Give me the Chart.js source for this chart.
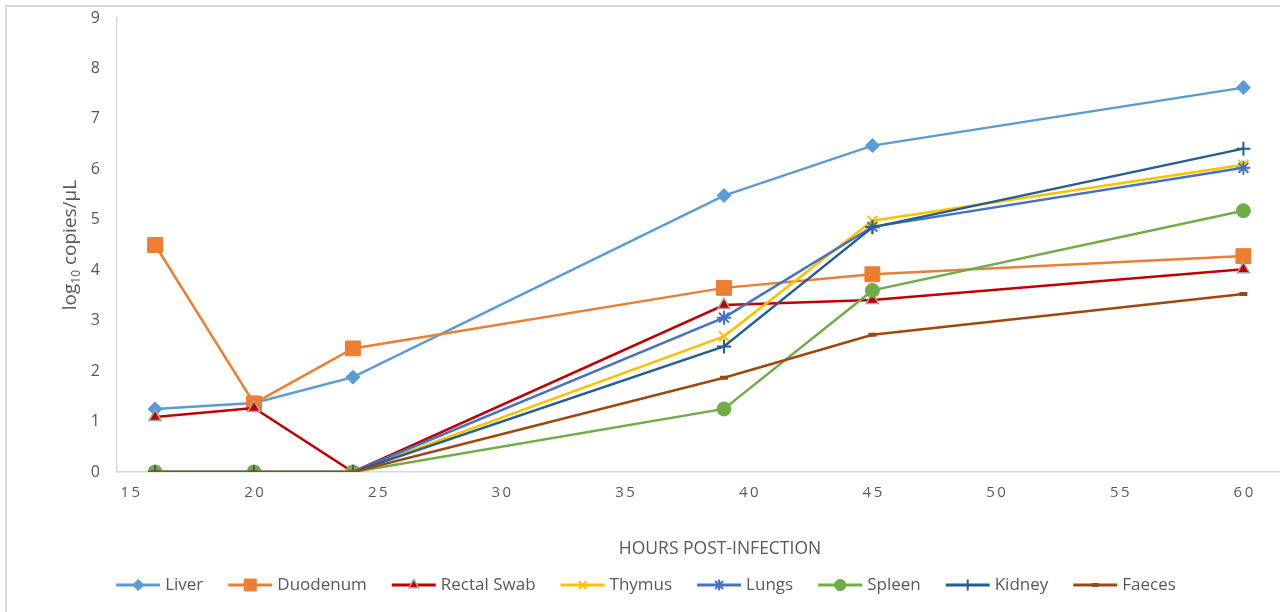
<!DOCTYPE html>
<html>
<head>
<meta charset="utf-8">
<script src="https://cdn.jsdelivr.net/npm/chart.js@4.4.1/dist/chart.umd.min.js"></script>
<style>
  html, body { margin: 0; padding: 0; background: #fff; overflow: hidden; }
  #wrap { position: absolute; left: 0; top: 0; width: 1292px; height: 612px; }
  #frame { position: absolute; left: 5px; top: 5px; width: 1400px; height: 700px;
           border-left: 2px solid #d9d9d9; border-top: 2px solid #d9d9d9; pointer-events: none; }
</style>
</head>
<body>
<div id="wrap"><canvas id="chart"></canvas></div>
<div id="frame"></div>
<script>
// hours post-infection
const hours = [16, 20, 24, 39, 45, 60];
const xTicks = [15, 20, 25, 30, 35, 40, 45, 50, 55, 60];
const yTicks = [0, 1, 2, 3, 4, 5, 6, 7, 8, 9];

// log10 copies/uL per tissue
const liver = [1.25, 1.37, 1.88, 5.48, 6.47, 7.62];
const duodenum = [4.50, 1.36, 2.45, 3.65, 3.92, 4.28];
const rectalSwab = [1.09, 1.27, 0, 3.31, 3.41, 4.02];
const thymus = [0, 0, 0, 2.69, 4.98, 6.09];
const lungs = [0, 0, 0, 3.06, 4.86, 6.03];
const spleen = [0, 0, 0, 1.25, 3.60, 5.18];
const kidney = [0, 0, 0, 2.49, 4.85, 6.41];
const faeces = [0, 0, 0, 1.87, 2.72, 3.53];

const textColor = "#595959";
const axisColor = "#d9d9d9";

function pts(vals) {
  return vals.map((v, i) => ({ x: hours[i], y: v }));
}

function series(label, vals, color, style, extra) {
  return Object.assign({
    label: label,
    data: pts(vals),
    borderColor: color,
    backgroundColor: color,
    borderWidth: 2.5,
    pointStyle: style,
    pointRadius: 7,
    pointHoverRadius: 7,
    pointBorderWidth: 1,
    pointBorderColor: color,
    pointBackgroundColor: color,
  }, extra || {});
}

const datasets = [
  series("Liver", liver, "#5B9BD5", "rectRot"),
  series("Duodenum", duodenum, "#ED7D31", "rect", { pointRadius: 10.5 }),
  series("Rectal Swab", rectalSwab, "#C00000", "triangle", { pointBorderColor: "#A5A5A5", pointBorderWidth: 1.5 }),
  series("Thymus", thymus, "#FFC000", "crossRot", { pointBorderWidth: 2 }),
  series("Lungs", lungs, "#4472C4", "star", { pointBorderWidth: 2 }),
  series("Spleen", spleen, "#70AD47", "circle"),
  series("Kidney", kidney, "#255E91", "cross", { pointBorderWidth: 2 }),
  series("Faeces", faeces, "#9E480E", "line", { pointRadius: 4, pointBorderWidth: 4 }),
];
// excel draws later series on top
datasets.forEach((ds, i) => { ds.order = datasets.length - i; });

// axis titles (y one needs a subscript)
const titlesPlugin = {
  id: "axisTitles",
  afterDraw(chart) {
    const ctx = chart.ctx;
    ctx.save();
    ctx.fillStyle = textColor;
    ctx.textBaseline = "middle";
    ctx.textAlign = "center";
    ctx.font = "17.5px 'Open Sans', sans-serif";
    ctx.fillText("HOURS POST-INFECTION", 720, 549);

    ctx.textAlign = "left";
    ctx.translate(71, 245);
    ctx.rotate(-Math.PI / 2);
    const big = "19px 'Open Sans', sans-serif";
    const small = "12px 'Open Sans', sans-serif";
    ctx.font = big;
    const w1 = ctx.measureText("log").width;
    const w3 = ctx.measureText(" copies/\u00B5L").width;
    ctx.font = small;
    const w2 = ctx.measureText("10").width;
    let x = -(w1 + w2 + w3) / 2;
    ctx.font = big;
    ctx.fillText("log", x, 0);
    x += w1;
    ctx.font = small;
    ctx.fillText("10", x, 6);
    x += w2;
    ctx.font = big;
    ctx.fillText(" copies/\u00B5L", x, 0);
    ctx.restore();
  }
};

const legendPlugin = {
  id: "excelLegend",
  afterDraw(chart) {
    const ctx = chart.ctx;
    const lineLen = 44, gap = 5, spacing = 25, y = 585, center = 646;
    ctx.save();
    ctx.font = "17px 'Open Sans', sans-serif";
    const items = chart.data.datasets.map(ds => ({ ds: ds, w: lineLen + gap + ctx.measureText(ds.label).width }));
    const total = items.reduce((s, it) => s + it.w, 0) + spacing * (items.length - 1);
    let x = center - total / 2;
    items.forEach(it => {
      const ds = it.ds;
      ctx.strokeStyle = ds.borderColor;
      ctx.lineWidth = 3;
      ctx.beginPath();
      ctx.moveTo(x, y);
      ctx.lineTo(x + lineLen, y);
      ctx.stroke();
      ctx.fillStyle = ds.pointBackgroundColor;
      ctx.strokeStyle = ds.pointBorderColor;
      ctx.lineWidth = ds.pointBorderWidth;
      Chart.helpers.drawPoint(ctx, {
        pointStyle: ds.pointStyle,
        radius: ds.pointRadius * 0.8,
        borderWidth: ds.pointBorderWidth,
        rotation: 0
      }, x + lineLen / 2, y);
      ctx.fillStyle = textColor;
      ctx.textBaseline = "middle";
      ctx.textAlign = "left";
      ctx.fillText(ds.label, x + lineLen + gap, y);
      x += it.w + spacing;
    });
    ctx.restore();
  }
};

new Chart(document.getElementById("chart"), {
  type: "line",
  data: { datasets: datasets },
  plugins: [titlesPlugin, legendPlugin],
  options: {
    responsive: true,
    maintainAspectRatio: false,
    animation: false,
    layout: { padding: { top: 18, right: 0, bottom: 0, left: 0 } },
    plugins: {
      legend: { display: false },
      tooltip: { enabled: false },
    },
    scales: {
      x: {
        type: "linear",
        min: 14.46,
        max: 61.5,
        afterBuildTicks: (scale) => { scale.ticks = xTicks.map(v => ({ value: v })); },
        afterFit: (scale) => { scale.height = 140; },
        grid: { display: false, drawTicks: false },
        border: { color: axisColor, width: 1.5 },
        ticks: {
          padding: 12,
          color: textColor,
          font: { family: "'Open Sans', sans-serif", size: 15 },
          callback: (v) => String(v).split("").join("\u2009"),
        },
      },
      y: {
        min: 0,
        max: 9,
        afterBuildTicks: (scale) => { scale.ticks = yTicks.map(v => ({ value: v })); },
        afterFit: (scale) => {
          scale.width = 117;
          scale.paddingTop = 0;
          scale.paddingBottom = 0;
        },
        grid: { display: false, drawTicks: false },
        border: { color: axisColor, width: 1.5 },
        ticks: {
          padding: 17,
          color: textColor,
          font: { family: "'Open Sans', sans-serif", size: 16 },
        },
      },
    },
  },
});
</script>
</body>
</html>
